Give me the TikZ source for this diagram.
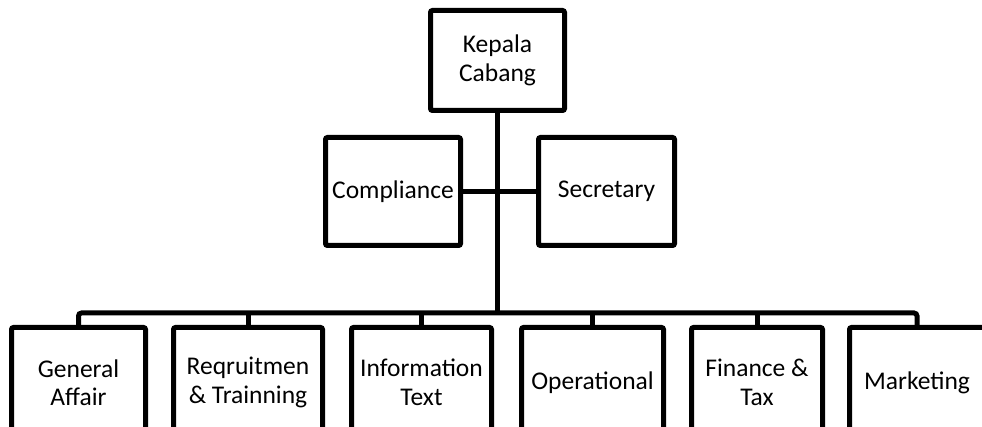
\documentclass[tikz,border=0pt]{standalone}
\usepackage{fontspec}
\setmainfont{Carlito}
\begin{document}
\begin{tikzpicture}[x=1pt,y=-1pt,
  orgbox/.style={draw=black, line width=5pt, rounded corners=2pt, align=center,
    inner sep=0pt, outer sep=0pt, font=\fontsize{25.5}{28.5}\selectfont},
  conn/.style={line width=5pt}]
\useasboundingbox (0,0) rectangle (982,427);
\clip (0,0) rectangle (982,427);
\node[orgbox, minimum width=134pt, minimum height=100pt] (top) at (497.5,60.5) {Kepala\\Cabang};
\node[orgbox, minimum width=135pt, minimum height=108pt] (comp) at (393,191.5) {Compliance};
\node[orgbox, minimum width=136pt, minimum height=108pt] (sec) at (606.5,191.5) {Secretary};
\node[orgbox, minimum width=134pt, minimum height=110pt] (b1) at (78.5,382.5) {General\\Affair};
\node[orgbox, minimum width=149pt, minimum height=110pt] (b2) at (248,382.5) {Reqruitmen\\\& Trainning};
\node[orgbox, minimum width=140pt, minimum height=110pt] (b3) at (421.5,382.5) {Information\\Text};
\node[orgbox, minimum width=142pt, minimum height=110pt] (b4) at (592.5,382.5) {Operational};
\node[orgbox, minimum width=131pt, minimum height=110pt] (b5) at (757,382.5) {Finance \&\\Tax};
\node[orgbox, minimum width=135pt, minimum height=110pt] (b6) at (917,382.5) {Marketing};
\coordinate (bus) at (497.5,313);
\draw[conn] (top.south) -- (bus);
\draw[conn] (comp.east) -- (sec.west);
\draw[conn, rounded corners=3pt] (b1.north) |- (bus) -| (b6.north);
\foreach \b in {b2,b3,b4,b5} \draw[conn] (\b.north) -- (\b.north |- bus);
\end{tikzpicture}
\end{document}
